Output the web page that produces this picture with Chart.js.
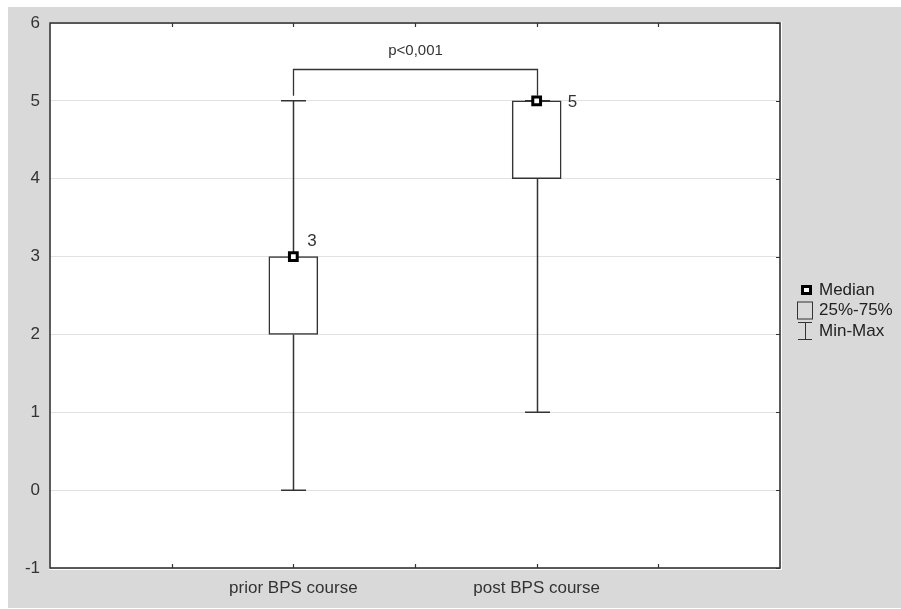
<!DOCTYPE html>
<html>
<head>
<meta charset="utf-8">
<script src="https://cdn.jsdelivr.net/npm/chart.js@4"></script>
<style>
  html, body { margin: 0; padding: 0; background: #fff; }
  #wrap { width: 901px; height: 609px; position: relative; }
</style>
</head>
<body>
<div id="wrap"><canvas id="myChart"></canvas></div>
<script>
// box plot values
const categories = ['prior BPS course', 'post BPS course'];
const minValues = [0, 1];
const q1Values = [2, 4];
const medianValues = [3, 5];
const q3Values = [3, 5];
const maxValues = [5, 5];
const yTicks = [-1, 0, 1, 2, 3, 4, 5, 6];
const pValueLabel = 'p<0,001';
const legendLabels = ['Median', '25%-75%', 'Min-Max'];

const FONT = '"Liberation Sans", Arial, sans-serif';
const LINE = '#333';

// categories sit on x = 2 and x = 4 of a 0..6 axis
const catX = categories.map((c, i) => 2 + i * 2);

const boxData = categories.map((c, i) => ({ x: catX[i], y: [q1Values[i], q3Values[i]] }));
const medianData = categories.map((c, i) => ({ x: catX[i], y: medianValues[i] }));

const boxPlotExtras = {
    id: 'boxPlotExtras',
    beforeDraw(chart) {
        const { ctx, chartArea: a } = chart;
        ctx.save();
        ctx.fillStyle = '#fff';
        ctx.fillRect(0, 0, chart.width, chart.height);
        ctx.fillStyle = '#d9d9d9';
        ctx.fillRect(8, 7, chart.width - 8, chart.height - 8);
        ctx.fillStyle = '#fff';
        ctx.fillRect(a.left - 1, a.top - 1, a.right - a.left + 3, a.bottom - a.top + 3);
        ctx.restore();
    },
    beforeDatasetsDraw(chart) {
        const { ctx } = chart;
        const xs = chart.scales.x, ys = chart.scales.y;
        ctx.save();
        ctx.strokeStyle = LINE;
        ctx.lineWidth = 1.5;
        const capHalf = 12.5;
        categories.forEach((c, i) => {
            const px = Math.round(xs.getPixelForValue(catX[i])) + 0.5;
            const yMin = ys.getPixelForValue(minValues[i]);
            const yMax = ys.getPixelForValue(maxValues[i]);
            const yQ1 = ys.getPixelForValue(q1Values[i]);
            const yQ3 = ys.getPixelForValue(q3Values[i]);
            ctx.beginPath();
            ctx.moveTo(px, yMax); ctx.lineTo(px, yQ3);
            ctx.moveTo(px, yQ1); ctx.lineTo(px, yMin);
            ctx.moveTo(px - capHalf, yMax); ctx.lineTo(px + capHalf, yMax);
            ctx.moveTo(px - capHalf, yMin); ctx.lineTo(px + capHalf, yMin);
            ctx.stroke();
        });
        ctx.restore();
    },
    afterDatasetsDraw(chart) {
        const { ctx, chartArea: a } = chart;
        const xs = chart.scales.x, ys = chart.scales.y;
        ctx.save();
        // frame
        ctx.strokeStyle = LINE;
        ctx.lineWidth = 1.6;
        ctx.strokeRect(a.left, a.top, a.right - a.left, a.bottom - a.top);
        // inner tick marks
        ctx.lineWidth = 1.2;
        ctx.beginPath();
        for (let v = 1; v <= 5; v++) {
            const px = Math.round(xs.getPixelForValue(v)) + 0.5;
            ctx.moveTo(px, a.top); ctx.lineTo(px, a.top + 4);
            ctx.moveTo(px, a.bottom); ctx.lineTo(px, a.bottom - 4);
        }
        yTicks.forEach(v => {
            const py = Math.round(ys.getPixelForValue(v)) + 0.5;
            ctx.moveTo(a.right, py); ctx.lineTo(a.right - 4, py);
        });
        ctx.stroke();

        // median value labels
        ctx.fillStyle = '#333';
        ctx.font = '17px ' + FONT;
        ctx.textBaseline = 'middle';
        ctx.textAlign = 'left';
        categories.forEach((c, i) => {
            const px = xs.getPixelForValue(catX[i]);
            const py = ys.getPixelForValue(medianValues[i]);
            if (medianValues[i] === q3Values[i] && medianValues[i] === maxValues[i]) {
                ctx.fillText(String(medianValues[i]), px + 31, py + 1);
            } else {
                ctx.fillText(String(medianValues[i]), px + 14, py - 15);
            }
        });

        // significance bracket
        const x1 = Math.round(xs.getPixelForValue(catX[0])) + 0.5;
        const x2 = Math.round(xs.getPixelForValue(catX[1])) + 0.5;
        const yTop = Math.round(ys.getPixelForValue(5.41)) + 0.5;
        const yEnd = ys.getPixelForValue(Math.max(...maxValues)) - 5;
        ctx.strokeStyle = LINE;
        ctx.lineWidth = 1.3;
        ctx.beginPath();
        ctx.moveTo(x1, yEnd); ctx.lineTo(x1, yTop); ctx.lineTo(x2, yTop); ctx.lineTo(x2, yEnd);
        ctx.stroke();
        ctx.font = '15px ' + FONT;
        ctx.textAlign = 'center';
        ctx.fillText(pValueLabel, (x1 + x2) / 2, ys.getPixelForValue(5.64));

        // legend
        const lx = a.right + 17, ly = 290, gap = 20.5;
        ctx.font = '17px ' + FONT;
        ctx.textAlign = 'left';
        ctx.fillStyle = '#222';
        legendLabels.forEach((t, i) => ctx.fillText(t, lx + 22, ly + i * gap));
        ctx.fillStyle = '#000';
        ctx.fillRect(lx + 4, ly - 5, 11, 10);
        ctx.fillStyle = '#fff';
        ctx.fillRect(lx + 7, ly - 2, 5, 4);
        ctx.strokeStyle = '#333';
        ctx.lineWidth = 1;
        ctx.strokeRect(lx + 0.5, ly + gap - 8.5, 15, 17);
        const wy = ly + 2 * gap;
        ctx.beginPath();
        ctx.moveTo(lx + 1, wy - 8.5); ctx.lineTo(lx + 15, wy - 8.5);
        ctx.moveTo(lx + 8.5, wy - 8.5); ctx.lineTo(lx + 8.5, wy + 8.5);
        ctx.moveTo(lx + 1, wy + 8.5); ctx.lineTo(lx + 15, wy + 8.5);
        ctx.stroke();
        ctx.restore();
    }
};

new Chart(document.getElementById('myChart'), {
    data: {
        datasets: [{
            type: 'scatter',
            label: 'Median',
            data: medianData,
            pointStyle: 'rect',
            pointRadius: 5.5,
            pointHoverRadius: 5.5,
            borderWidth: 3,
            borderColor: '#000',
            backgroundColor: '#fff'
        }, {
            type: 'bar',
            label: '25%-75%',
            data: boxData,
            barThickness: 49,
            backgroundColor: '#fff',
            borderColor: LINE,
            borderWidth: 1.5,
            borderSkipped: false
        }]
    },
    options: {
        responsive: true,
        maintainAspectRatio: false,
        animation: false,
        layout: { padding: { top: 23, right: 121, left: 0, bottom: 0 } },
        plugins: { legend: { display: false }, tooltip: { enabled: false } },
        scales: {
            x: {
                type: 'linear',
                min: 0,
                max: 6,
                offset: false,
                afterFit(scale) { scale.height = 41; },
                afterBuildTicks(scale) {
                    scale.ticks = catX.map(v => ({ value: v }));
                },
                ticks: {
                    autoSkip: false,
                    padding: 10,
                    color: '#333',
                    font: { family: FONT, size: 17 },
                    callback: (v) => {
                        const i = catX.indexOf(v);
                        return i >= 0 ? categories[i] : '';
                    }
                },
                grid: { display: false, drawTicks: false, offset: false },
                border: { display: false }
            },
            y: {
                min: -1,
                max: 6,
                afterFit(scale) { scale.width = 50; },
                afterBuildTicks(scale) {
                    scale.ticks = yTicks.map(v => ({ value: v }));
                },
                ticks: {
                    padding: 10,
                    color: '#333',
                    font: { family: FONT, size: 17 }
                },
                grid: { color: '#e2e2e2', lineWidth: 1, drawTicks: false },
                border: { display: false }
            }
        }
    },
    plugins: [boxPlotExtras]
});
</script>
</body>
</html>
